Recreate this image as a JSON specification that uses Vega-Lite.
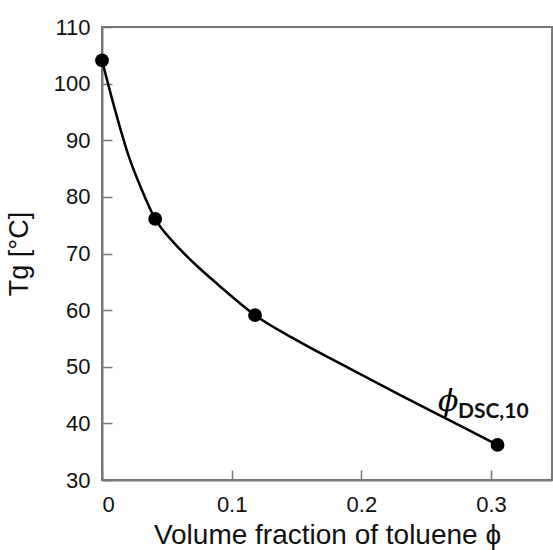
{
  "$schema": "https://vega.github.io/schema/vega-lite/v6.json",
  "autosize": "none",
  "padding": {"left": 102, "top": 27, "right": 1, "bottom": 70},
  "width": 450,
  "height": 453,
  "background": "white",
  "datasets": {
    "curve": [
      {"phi": 0, "Tg": 104.1},
      {"phi": 0.01, "Tg": 95.4},
      {"phi": 0.02, "Tg": 87.6},
      {"phi": 0.03, "Tg": 81.6},
      {"phi": 0.041, "Tg": 76.1},
      {"phi": 0.055, "Tg": 72.0},
      {"phi": 0.07, "Tg": 68.5},
      {"phi": 0.09, "Tg": 64.4},
      {"phi": 0.118, "Tg": 59.1},
      {"phi": 0.15, "Tg": 54.7},
      {"phi": 0.19, "Tg": 49.8},
      {"phi": 0.23, "Tg": 45.0},
      {"phi": 0.27, "Tg": 40.3},
      {"phi": 0.305, "Tg": 36.2}
    ],
    "points": [
      {"phi": 0, "Tg": 104.1},
      {"phi": 0.041, "Tg": 76.1},
      {"phi": 0.118, "Tg": 59.1},
      {"phi": 0.305, "Tg": 36.2}
    ]
  },
  "config": {
    "font": "Liberation Sans",
    "view": {"stroke": "#777", "strokeWidth": 2},
    "axis": {
      "domainColor": "#777",
      "domainWidth": 2,
      "tickColor": "#777",
      "tickWidth": 1.5,
      "tickSize": -10,
      "grid": false,
      "labelFont": "Liberation Sans",
      "labelFontSize": 22,
      "labelColor": "#111",
      "titleFont": "Liberation Sans",
      "titleFontWeight": "normal",
      "titleColor": "#111",
      "titleFontSize": 27
    }
  },
  "layer": [
    {
      "data": {"name": "curve"},
      "mark": {"type": "line", "interpolate": "monotone", "color": "black", "strokeWidth": 2.5, "clip": true},
      "encoding": {
        "x": {
          "field": "phi", "type": "quantitative",
          "scale": {"domain": [0, 0.347], "nice": false, "zero": false},
          "axis": {"values": [0, 0.1, 0.2, 0.3], "format": "~g", "labelPadding": 24, "title": "Volume fraction of toluene ϕ", "titleFontSize": 28, "titlePadding": 6}
        },
        "y": {
          "field": "Tg", "type": "quantitative",
          "scale": {"domain": [30, 110], "nice": false, "zero": false},
          "axis": {"values": [30, 40, 50, 60, 70, 80, 90, 100, 110], "labelPadding": 22, "title": "Tg [°C]", "titlePadding": 20}
        }
      }
    },
    {
      "data": {"name": "points"},
      "mark": {"type": "circle", "color": "black", "opacity": 1, "size": 190},
      "encoding": {
        "x": {"field": "phi", "type": "quantitative"},
        "y": {"field": "Tg", "type": "quantitative"}
      }
    },
    {
      "data": {"values": [{"t": "ϕ"}]},
      "mark": {"type": "text", "font": "DejaVu Serif", "fontStyle": "italic", "fontSize": 30, "align": "left", "baseline": "alphabetic", "color": "black"},
      "encoding": {
        "x": {"datum": 0.259},
        "y": {"datum": 42.2},
        "text": {"field": "t"}
      }
    },
    {
      "data": {"values": [{"t": "DSC,10"}]},
      "mark": {"type": "text", "font": "Lato", "fontWeight": "bold", "fontSize": 21, "align": "left", "baseline": "alphabetic", "color": "#111"},
      "encoding": {
        "x": {"datum": 0.2745},
        "y": {"datum": 40.9},
        "text": {"field": "t"}
      }
    }
  ]
}
